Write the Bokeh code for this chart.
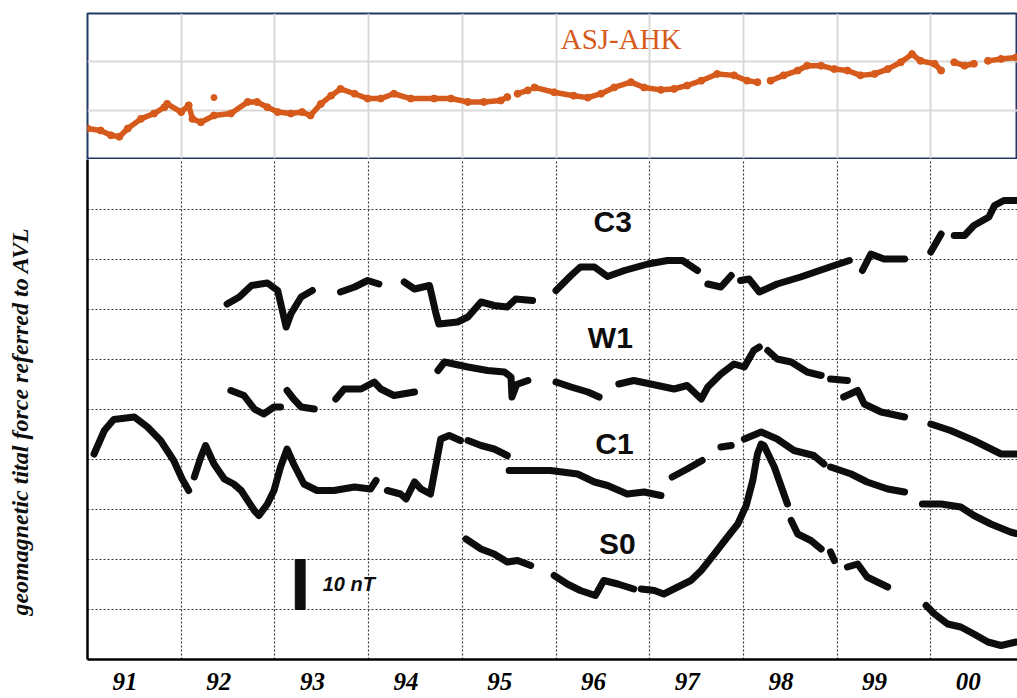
import numpy as np
from bokeh.plotting import figure
from bokeh.layouts import column
from bokeh.models import Range1d, FixedTicker, CustomJSTickFormatter
from bokeh.embed import file_html
from bokeh.resources import INLINE
from bokeh.core.properties import value

# ---------------- data ----------------
years = list(range(1991, 2002))
tick_labels = ["91", "92", "93", "94", "95", "96", "97", "98", "99", "00"]

# ASJ-AHK (top panel), segments
asj_x = [
    [1991.00, 1991.14, 1991.25, 1991.34, 1991.43, 1991.57, 1991.71, 1991.82, 1991.85, 1992.00, 1992.08, 1992.12,
     1992.21, 1992.35, 1992.53, 1992.71, 1992.81, 1992.92, 1993.03, 1993.17, 1993.29, 1993.38, 1993.49, 1993.60,
     1993.70, 1993.85, 1993.99, 1994.13, 1994.27, 1994.45, 1994.70, 1994.88, 1995.06, 1995.23, 1995.41, 1995.48],
    [1995.59, 1995.70],
    [1995.77, 1995.98, 1996.19, 1996.34, 1996.48, 1996.62, 1996.80, 1996.94, 1997.12, 1997.26, 1997.40, 1997.55,
     1997.72, 1997.90, 1998.04, 1998.15],
    [1998.29, 1998.43, 1998.58, 1998.68, 1998.83, 1998.97, 1999.11, 1999.25, 1999.40, 1999.54, 1999.68, 1999.80,
     1999.89, 2000.04, 2000.11],
    [2000.25, 2000.36, 2000.46],
    [2000.61, 2000.75, 2000.91],
]
asj_y = [
    [6.2, 5.8, 4.8, 4.5, 6.2, 8.2, 9.3, 10.6, 11.3, 9.6, 11.0, 8.2,
     7.5, 8.9, 9.3, 11.7, 11.7, 10.6, 9.6, 9.3, 9.6, 8.9, 11.3, 13.0,
     14.4, 13.4, 12.4, 12.4, 13.4, 12.4, 12.4, 12.4, 11.7, 11.7, 12.0, 12.7],
    [13.4, 14.1],
    [14.7, 13.7, 13.0, 12.6, 13.4, 14.7, 15.8, 14.7, 14.2, 14.4, 15.1, 16.1,
     17.5, 17.2, 16.1, 15.8],
    [16.1, 17.2, 18.2, 19.2, 19.2, 18.5, 18.2, 17.2, 17.5, 18.5, 19.9, 21.6,
     20.2, 19.6, 18.2],
    [19.9, 19.2, 19.6],
    [20.2, 20.6, 20.9],
]
asj_out_x = [1992.35]
asj_out_y = [12.6]

# C3
c3_x = [
    [1992.49, 1992.62, 1992.75, 1992.85, 1992.92, 1993.03, 1993.12, 1993.17, 1993.28, 1993.40],
    [1993.70, 1993.85, 1993.99, 1994.11],
    [1994.38, 1994.49, 1994.65, 1994.72, 1994.75, 1994.95, 1995.06, 1995.20, 1995.34, 1995.48, 1995.57, 1995.75],
    [1996.00, 1996.16, 1996.26, 1996.41, 1996.55, 1996.73, 1996.98, 1997.19, 1997.35, 1997.51],
    [1997.62, 1997.76, 1997.87],
    [1997.97, 1998.06, 1998.17, 1998.36, 1998.61, 1998.86, 1998.97, 1999.13],
    [1999.27, 1999.36, 1999.50, 1999.72],
    [2000.00, 2000.11],
    [2000.25, 2000.36, 2000.46, 2000.62, 2000.68, 2000.78, 2000.91],
]
c3_y = [
    [71.1, 72.5, 74.8, 75.1, 75.3, 73.8, 66.5, 69.1, 72.5, 73.8],
    [73.5, 74.5, 75.8, 75.1],
    [75.5, 74.1, 74.8, 69.1, 67.1, 67.5, 68.5, 71.5, 70.8, 70.5, 72.1, 71.8],
    [73.8, 76.8, 78.5, 78.5, 76.6, 77.8, 79.1, 79.8, 79.8, 77.8],
    [75.1, 74.5, 76.8],
    [75.8, 76.1, 73.5, 75.1, 76.5, 78.1, 78.8, 79.8],
    [77.8, 81.1, 80.1, 80.1],
    [81.5, 85.1],
    [84.8, 84.8, 86.8, 88.5, 90.8, 91.8, 91.8],
]

# W1
w1_x = [
    [1992.53, 1992.67, 1992.78, 1992.88, 1992.99, 1993.06],
    [1993.13, 1993.20, 1993.28, 1993.42],
    [1993.65, 1993.74, 1993.92, 1994.06, 1994.13, 1994.27, 1994.49],
    [1994.74, 1994.81, 1995.06, 1995.27, 1995.45, 1995.52, 1995.53, 1995.58, 1995.70],
    [1996.00, 1996.16, 1996.34, 1996.46],
    [1996.67, 1996.83, 1997.01, 1997.26, 1997.40, 1997.55, 1997.62, 1997.76, 1997.90, 1998.01, 1998.11, 1998.17],
    [1998.26, 1998.36, 1998.51, 1998.68, 1998.83],
    [1998.93, 1999.11],
    [1999.07, 1999.22, 1999.29, 1999.47, 1999.72],
    [2000.00, 2000.21, 2000.46, 2000.75, 2000.91],
]
w1_y = [
    [53.8, 52.8, 50.1, 49.1, 50.5, 50.5],
    [53.8, 52.1, 50.5, 50.1],
    [52.1, 54.1, 54.1, 55.5, 54.1, 52.8, 53.5],
    [57.8, 59.5, 58.5, 57.8, 57.5, 56.5, 52.5, 55.0, 55.8],
    [55.5, 54.5, 53.5, 52.5],
    [55.1, 55.8, 55.1, 54.1, 54.8, 52.1, 54.5, 57.1, 59.1, 58.5, 61.8, 62.5],
    [61.8, 60.1, 59.5, 57.5, 56.8],
    [56.1, 55.8],
    [52.5, 53.8, 51.1, 49.5, 48.5],
    [47.1, 45.8, 43.8, 41.1, 41.1],
]

# C1
c1_x = [
    [1991.07, 1991.18, 1991.28, 1991.50, 1991.64, 1991.78, 1991.92, 1992.01, 1992.08],
    [1992.14, 1992.21, 1992.26, 1992.35, 1992.46, 1992.56, 1992.64, 1992.78, 1992.83, 1992.92, 1992.99, 1993.06,
     1993.13, 1993.20, 1993.31, 1993.45, 1993.63, 1993.85, 1994.02, 1994.08],
    [1994.20, 1994.34, 1994.40, 1994.49, 1994.56, 1994.66, 1994.70, 1994.77, 1994.86, 1994.98],
    [1995.06, 1995.20, 1995.34, 1995.48],
    [1995.50, 1995.70, 1995.94, 1996.23, 1996.41, 1996.55, 1996.76, 1996.94, 1997.12],
    [1997.24, 1997.40, 1997.56],
    [1997.76, 1997.87],
    [1998.01, 1998.19, 1998.36, 1998.54, 1998.75, 1998.86],
    [1998.93, 1999.15, 1999.32, 1999.54, 1999.72],
    [1999.91, 2000.11, 2000.32, 2000.46, 2000.64, 2000.85, 2000.91],
]
c1_y = [
    [41.1, 45.8, 48.0, 48.5, 46.5, 43.8, 39.8, 36.1, 33.8],
    [36.5, 40.5, 42.8, 39.1, 36.1, 35.1, 33.8, 29.8, 28.8, 31.1, 33.8, 38.5,
     42.1, 39.1, 35.1, 33.8, 33.8, 34.5, 34.1, 35.8],
    [33.8, 33.1, 32.1, 35.5, 34.1, 33.1, 37.1, 44.1, 44.8, 43.8],
    [43.8, 42.8, 42.1, 40.8],
    [37.8, 37.8, 37.8, 37.1, 35.5, 34.8, 33.1, 33.5, 32.8],
    [36.5, 38.1, 39.8],
    [42.5, 42.8],
    [44.1, 45.5, 44.1, 41.8, 40.8, 39.1],
    [38.5, 37.1, 35.5, 34.1, 33.5],
    [31.1, 31.1, 30.5, 28.8, 27.1, 25.5, 25.2],
]

# S0
s0_x = [
    [1995.04, 1995.20, 1995.34, 1995.48, 1995.59, 1995.73],
    [1995.98, 1996.12, 1996.26, 1996.42, 1996.51, 1996.66, 1996.83],
    [1996.91, 1997.05, 1997.15, 1997.30, 1997.44, 1997.55, 1997.69, 1997.83, 1997.94, 1998.03, 1998.10, 1998.15,
     1998.19, 1998.22, 1998.33, 1998.47],
    [1998.51, 1998.58, 1998.72, 1998.83],
    [1998.93, 1998.97],
    [1999.11, 1999.22, 1999.32, 1999.54],
    [1999.95, 2000.04, 2000.18, 2000.32, 2000.46, 2000.61, 2000.75, 2000.91],
]
s0_y = [
    [24.1, 22.1, 21.1, 19.5, 19.8, 18.8],
    [16.8, 15.1, 13.8, 12.8, 15.8, 15.1, 14.1],
    [14.1, 13.8, 13.1, 14.5, 15.8, 17.8, 21.1, 24.5, 27.1, 30.8, 35.8, 41.1,
     43.1, 42.8, 38.5, 31.1],
    [27.8, 25.1, 23.8, 22.1],
    [21.5, 19.8],
    [18.5, 19.1, 16.5, 14.5],
    [10.8, 9.1, 7.1, 6.5, 5.1, 3.5, 2.8, 3.5],
]

series_names = ["C3", "W1", "C1", "S0"]
name_x = [1996.40, 1996.34, 1996.42, 1996.46]
name_y = [87.6, 64.5, 43.2, 23.2]

scale_bar_x = 1993.27
scale_bar_bottom = 10
scale_bar_len = 10  # nT

y_title = "geomagnetic tital force referred to AVL"

# ---------------- style ----------------
ORANGE = "#d65a1b"
NAVY = "#203864"
BLACK = "#0d0d0d"
x_end = 1991 + 930 / 93.7

x_range = Range1d(1991, x_end)

# top panel
pt = figure(width=1017, height=159, x_range=x_range, y_range=Range1d(0, 30),
            output_backend="svg", toolbar_location=None,
            min_border_left=87, min_border_right=0, min_border_top=13, min_border_bottom=1)
pt.xaxis.visible = False
pt.yaxis.visible = False
pt.xgrid.ticker = FixedTicker(ticks=years[1:10])
pt.ygrid.ticker = FixedTicker(ticks=[10, 20])
pt.grid.grid_line_color = "#d9d9d9"
pt.grid.grid_line_width = 2
pt.outline_line_color = NAVY
pt.outline_line_width = 2
pt.background_fill_color = "white"
pt.border_fill_color = "white"

pt.multi_line(xs=asj_x, ys=asj_y, line_color=ORANGE, line_width=5.5, line_join="round", line_cap="round")
for sx, sy in zip(asj_x, asj_y):
    pt.scatter(x=sx, y=sy, size=7, color=ORANGE)
pt.scatter(x=asj_out_x, y=asj_out_y, size=6, color=ORANGE)
pt.text(x=[1996.05], y=[24.7], text=["ASJ-AHK"], text_font=value("Liberation Serif"),
        text_font_size="29px", text_color=ORANGE, text_baseline="alphabetic", text_align="left")

# bottom panel
pb = figure(width=1017, height=539, x_range=x_range, y_range=Range1d(0, 100),
            output_backend="svg", toolbar_location=None,
            min_border_left=87, min_border_right=0, min_border_top=0, min_border_bottom=39)
pb.outline_line_color = None
pb.background_fill_color = "white"
pb.border_fill_color = "white"

pb.xgrid.ticker = FixedTicker(ticks=years[1:10])
pb.ygrid.ticker = FixedTicker(ticks=list(range(10, 100, 10)))
pb.grid.grid_line_color = "#3a3a3a"
pb.grid.grid_line_width = 1.2
pb.grid.grid_line_dash = "2 2"

pb.xaxis.ticker = FixedTicker(ticks=[y + 0.40 for y in years[:10]])
pb.xaxis.formatter = CustomJSTickFormatter(args=dict(labels=tick_labels),
                                           code="return labels[Math.floor(tick) - 1991] || '';")
pb.xaxis.axis_line_width = 2.5
pb.xaxis.axis_line_color = "black"
pb.xaxis.major_tick_line_color = None
pb.xaxis.minor_tick_line_color = None
pb.xaxis.major_tick_out = 0
pb.xaxis.major_tick_in = 0
pb.xaxis.major_label_standoff = 13
pb.xaxis.major_label_text_font = "Liberation Serif"
pb.xaxis.major_label_text_font_style = "bold italic"
pb.xaxis.major_label_text_font_size = "25px"
pb.xaxis.major_label_text_color = "black"

pb.yaxis.ticker = FixedTicker(ticks=[])
pb.yaxis.axis_line_width = 2.5
pb.yaxis.axis_line_color = "black"
pb.yaxis.major_tick_out = 0
pb.yaxis.major_tick_in = 0
pb.yaxis.major_label_standoff = 0
pb.yaxis.minor_tick_line_color = None
pb.yaxis.axis_label = y_title + "\u00a0" * 4
pb.yaxis.axis_label_standoff = 55
pb.yaxis.axis_label_text_font = "Liberation Serif"
pb.yaxis.axis_label_text_font_style = "bold italic"
pb.yaxis.axis_label_text_font_size = "24px"
pb.yaxis.axis_label_text_color = BLACK

for xs, ys in [(c3_x, c3_y), (w1_x, w1_y), (c1_x, c1_y), (s0_x, s0_y)]:
    pb.multi_line(xs=xs, ys=ys, line_color=BLACK, line_width=7, line_join="round", line_cap="round")

pb.text(x=name_x, y=name_y, text=series_names, text_font=value("Liberation Sans"), text_font_style="bold",
        text_font_size="30px", text_color=BLACK, text_baseline="alphabetic", text_align="left")

pb.vbar(x=[scale_bar_x], bottom=[scale_bar_bottom], top=[scale_bar_bottom + scale_bar_len],
        width=0.105, color=BLACK)
pb.text(x=[1993.51], y=[15.1], text=["10 nT"], text_font=value("Liberation Sans"),
        text_font_style="bold italic", text_font_size="20px", text_color=BLACK,
        text_baseline="alphabetic", text_align="left")

layout = column(pt, pb, spacing=0)
open("out.html", "w").write(file_html(layout, INLINE))
